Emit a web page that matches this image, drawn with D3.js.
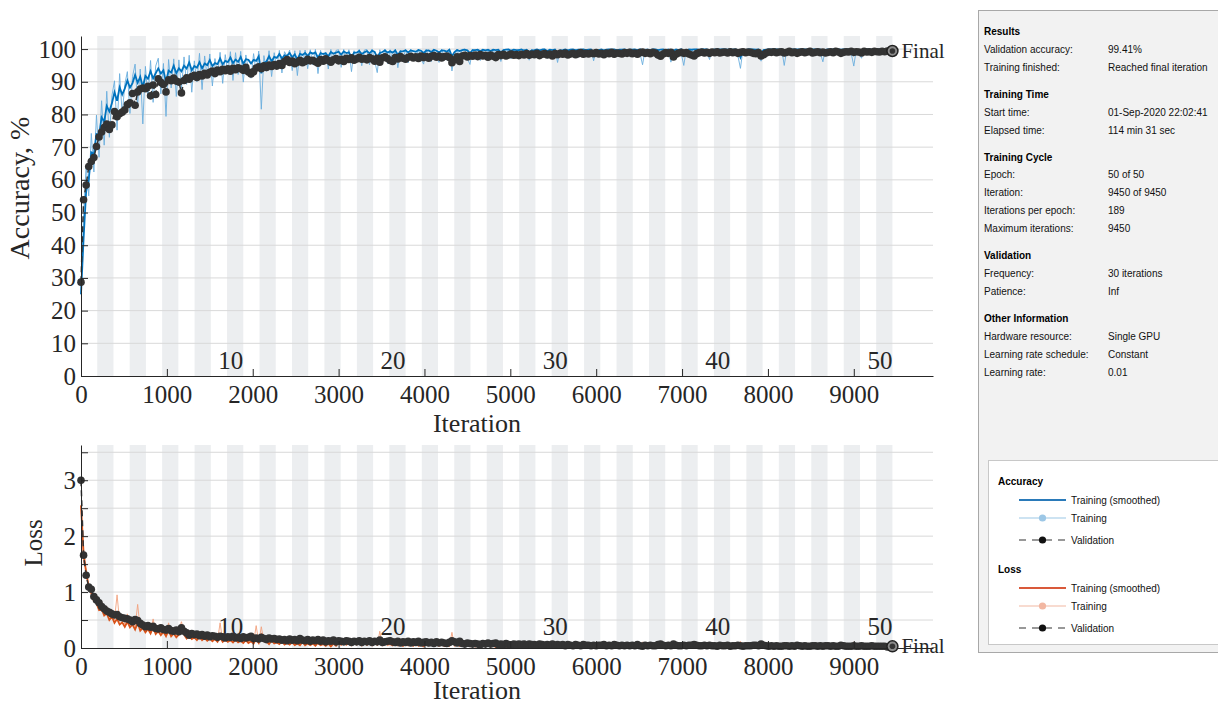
<!DOCTYPE html>
<html>
<head>
<meta charset="utf-8">
<script src="https://cdn.jsdelivr.net/npm/d3@7"></script>
<style>
  body { margin: 0; background: #fff; }
  svg { display: block; }
</style>
</head>
<body>
<script>
// ---- data ----
const step = 30;            // one value every 30 iterations
const itersPerEpoch = 189;
const epochCount = 50;
const finalIter = 9450;
const epochLabels = [10, 20, 30, 40, 50];
const iterTicks = [0, 1000, 2000, 3000, 4000, 5000, 6000, 7000, 8000, 9000];
const accTicks = [0, 10, 20, 30, 40, 50, 60, 70, 80, 90, 100];
const lossTicks = [0, 0.5, 1, 1.5, 2, 2.5, 3, 3.5];

const accValidation = [
  28.7, 53.9, 58.4, 64.1, 65.6, 66.8, 70.2, 73.1, 74.6, 76.0,
  77.1, 75.4, 76.8, 80.9, 79.3, 80.2, 80.7, 81.4, 83.0, 83.6,
  86.4, 82.8, 86.9, 87.8, 88.1, 87.9, 88.6, 85.7, 89.0, 86.1,
  90.9, 89.8, 89.2, 86.9, 90.6, 90.3, 91.1, 90.2, 89.9, 86.6,
  90.4, 91.2, 90.8, 91.6, 92.0, 91.3, 92.2, 91.8, 92.6, 92.1,
  92.9, 93.3, 92.5, 93.6, 93.1, 93.8, 93.4, 94.0, 93.2, 94.1,
  93.7, 94.3, 94.0, 93.5, 94.4, 93.0, 92.4, 93.1, 94.2, 94.6,
  94.0, 94.9, 94.4, 95.1, 94.7, 95.3, 94.8, 95.6, 95.0, 96.2,
  96.8, 95.9, 96.3, 95.5, 96.0, 96.6, 95.8, 96.2, 96.9, 96.4,
  96.6, 96.1, 95.7, 96.8, 96.3, 97.0, 96.5, 96.0, 96.7, 97.1,
  96.4, 96.9, 96.2, 97.2, 96.8, 97.3, 96.6, 97.0, 97.5, 96.9,
  97.1, 96.7, 97.4, 97.0, 96.3, 97.2, 96.0, 97.3, 97.6, 97.1,
  96.5, 96.2, 97.4, 97.0, 97.7, 97.2, 96.9, 97.5, 97.8, 97.3,
  97.6, 97.1, 97.9, 97.4, 97.7, 97.2, 97.8, 98.0, 97.5, 97.9,
  97.3, 97.7, 97.9, 97.4, 95.8, 96.7, 97.6, 96.2, 97.9, 98.1,
  97.6, 98.0, 97.8, 98.2, 97.7, 98.3, 97.9, 98.1, 97.5, 98.2,
  97.8, 97.4, 98.3, 98.0, 98.4, 97.9, 98.2, 98.5, 98.1, 98.3,
  98.0, 98.4, 98.2, 98.6, 98.1, 98.5, 98.3, 98.7, 98.0, 98.4,
  98.6, 98.2, 98.5, 97.9, 98.6, 98.3, 98.7, 98.4, 98.8, 98.2,
  98.5, 98.7, 98.3, 98.6, 98.9, 98.4, 98.7, 98.5, 98.8, 98.6,
  98.9, 98.5, 98.7, 98.3, 98.8, 98.6, 99.0, 98.4, 98.8, 98.7,
  98.5, 98.9, 98.7, 99.0, 98.6, 98.8, 98.4, 98.9, 99.1, 98.7,
  98.9, 98.6, 99.0, 98.8, 98.2, 97.8, 98.5, 98.9, 98.7, 99.0,
  97.6, 98.4, 98.8, 99.0, 98.7, 98.9, 98.5, 98.2, 97.9, 98.6,
  98.9, 99.1, 98.8, 99.0, 98.7, 99.1, 98.9, 99.2, 98.8, 99.0,
  99.1, 98.8, 99.2, 98.9, 99.1, 98.7, 99.0, 99.2, 98.9, 99.1,
  99.0, 98.7, 98.6, 98.9, 97.9, 98.3, 98.8, 99.1, 99.0, 99.2,
  98.9, 99.1, 99.2, 98.8, 99.0, 99.3, 98.9, 99.1, 98.7, 99.0,
  99.2, 98.9, 99.1, 99.3, 98.8, 99.0, 99.2, 98.9, 99.1, 98.8,
  99.0, 99.2, 98.9, 99.3, 99.1, 98.7, 99.0, 99.2, 99.1, 99.3,
  99.0, 99.2, 99.1, 98.8, 99.3, 99.1, 99.2, 99.0, 99.3, 99.2,
  99.1, 99.3, 99.2, 99.4, 99.3, 99.41
];

const accTraining = [
  25.0, 49.5, 64.3, 55.1, 74.2, 62.4, 79.8, 66.9, 84.2, 70.6,
  87.1, 73.0, 85.7, 90.3, 75.2, 92.5, 79.9, 89.2, 93.1, 80.3,
  91.6, 95.4, 82.8, 93.9, 77.1, 94.7, 85.2, 96.5, 83.7, 94.8,
  97.2, 86.3, 95.6, 79.4, 96.8, 88.1, 97.0, 85.5, 96.7, 87.9,
  97.6, 89.2, 98.1, 86.8, 96.4, 90.0, 98.7, 87.6, 97.9, 91.3,
  98.5, 88.7, 97.1, 91.8, 99.0, 89.5, 98.3, 92.6, 99.2, 90.4,
  98.9, 92.2, 99.3, 89.9, 98.2, 93.5, 91.1, 98.6, 92.9, 99.4,
  81.6, 98.0, 93.2, 99.5, 91.6, 98.9, 94.1, 99.6, 92.7, 99.2,
  97.8, 99.7, 93.4, 99.5, 91.9, 99.6, 95.4, 99.7, 94.0, 99.8,
  95.2, 99.9, 92.5, 99.6, 95.8, 99.1, 93.9, 99.9, 95.5, 99.6,
  99.8, 94.4, 99.9, 95.7, 99.8, 93.1, 99.5, 96.3, 99.9, 94.9,
  99.7, 99.9, 95.2, 100.0, 96.4, 92.8, 99.8, 96.7, 100.0, 95.6,
  99.8, 96.0, 100.0, 94.3, 99.7, 96.9, 99.9, 95.8, 100.0, 97.1,
  96.5, 100.0, 97.0, 95.4, 100.0, 97.5, 96.2, 100.0, 97.2, 95.9,
  100.0, 97.4, 96.6, 100.0, 93.3, 97.8, 100.0, 96.8, 99.9, 100.0,
  97.1, 95.3, 100.0, 97.7, 100.0, 96.5, 100.0, 97.3, 100.0, 96.9,
  100.0, 97.6, 100.0, 96.2, 100.0, 97.9, 100.0, 97.0, 100.0, 97.7,
  100.0, 98.7, 100.0, 98.5, 96.6, 100.0, 98.0, 100.0, 97.6, 100.0,
  100.0, 97.2, 100.0, 98.1, 100.0, 95.9, 100.0, 98.0, 100.0, 97.8,
  100.0, 98.3, 100.0, 97.5, 100.0, 98.7, 100.0, 98.5, 100.0, 96.4,
  100.0, 98.1, 100.0, 97.7, 100.0, 98.7, 100.0, 98.8, 100.0, 98.6,
  100.0, 98.9, 100.0, 97.8, 100.0, 98.8, 100.0, 98.7, 95.2, 100.0,
  100.0, 98.2, 100.0, 98.9, 100.0, 98.4, 100.0, 98.1, 100.0, 96.0,
  100.0, 98.8, 100.0, 98.7, 95.0, 100.0, 98.9, 100.0, 98.6, 100.0,
  100.0, 98.7, 100.0, 98.9, 96.8, 100.0, 98.8, 100.0, 98.7, 100.0,
  100.0, 98.3, 100.0, 98.5, 100.0, 98.0, 94.1, 100.0, 98.4, 100.0,
  100.0, 98.9, 100.0, 98.7, 96.3, 100.0, 98.5, 100.0, 98.3, 100.0,
  100.0, 98.4, 100.0, 95.0, 100.0, 98.8, 100.0, 98.9, 100.0, 98.8,
  100.0, 98.9, 100.0, 98.8, 100.0, 98.9, 100.0, 98.8, 96.1, 100.0,
  100.0, 98.5, 100.0, 98.7, 100.0, 98.2, 100.0, 98.6, 100.0, 98.7,
  94.8, 100.0, 98.7, 97.2, 100.0, 98.6, 100.0, 98.4, 100.0, 98.7,
  100.0, 98.6, 100.0, 99.9, 98.7, 100.0
];

const accSmoothed = [
  25.0, 42.0, 56.5, 60.2, 68.4, 67.9, 74.0, 73.6, 79.1, 77.8,
  82.6, 80.9, 83.4, 86.8, 84.2, 88.3, 86.1, 87.9, 90.4, 88.2,
  89.6, 92.1, 89.7, 91.5, 88.4, 91.8, 90.9, 93.2, 91.0, 92.6,
  94.1, 92.5, 93.5, 89.9, 93.4, 92.8, 94.9, 92.6, 94.1, 93.2,
  94.9, 94.0, 95.9, 93.5, 94.8, 94.3, 96.0, 94.1, 95.6, 95.1,
  96.6, 94.8, 95.7, 95.4, 97.1, 95.3, 96.4, 96.0, 97.4, 95.7,
  96.8, 96.1, 97.6, 95.5, 96.9, 96.7, 95.6, 96.7, 96.4, 97.8,
  92.6, 95.8, 96.2, 97.8, 96.3, 97.6, 97.3, 98.5, 97.1, 98.1,
  97.9, 98.8, 97.5, 98.4, 96.8, 98.5, 98.2, 98.8, 97.9, 99.0,
  98.6, 99.0, 97.4, 98.8, 98.5, 98.7, 97.8, 99.1, 98.6, 98.9,
  99.2, 98.3, 99.3, 98.8, 99.0, 97.5, 98.9, 98.9, 99.4, 98.5,
  99.0, 99.4, 98.7, 99.5, 99.1, 97.4, 98.8, 99.1, 99.6, 98.9,
  99.3, 98.9, 99.6, 98.2, 99.3, 99.3, 99.6, 99.0, 99.6, 99.4,
  99.2, 99.7, 99.5, 98.8, 99.5, 99.6, 99.1, 99.8, 99.5, 99.0,
  99.6, 99.5, 99.2, 99.8, 97.8, 99.1, 99.7, 99.4, 99.7, 99.8,
  99.6, 98.7, 99.7, 99.7, 99.8, 99.3, 99.8, 99.6, 99.8, 99.4,
  99.8, 99.7, 99.8, 99.0, 99.7, 99.8, 99.9, 99.5, 99.8, 99.7,
  99.7, 99.9, 99.5, 99.8, 99.1, 99.6, 99.7, 99.9, 99.6, 99.8,
  99.9, 99.4, 99.8, 99.7, 99.9, 98.8, 99.6, 99.7, 99.9, 99.6,
  99.8, 99.9, 99.6, 99.8, 99.8, 99.9, 99.7, 99.8, 99.9, 99.1,
  99.7, 99.7, 99.9, 99.6, 99.8, 99.9, 99.8, 99.9, 99.6, 99.8,
  99.8, 99.9, 99.7, 99.8, 99.8, 99.9, 99.7, 99.9, 98.3, 99.4,
  99.8, 99.7, 99.9, 99.9, 99.7, 99.8, 99.9, 99.7, 99.9, 98.8,
  99.5, 99.9, 99.7, 99.9, 98.4, 99.5, 99.9, 99.8, 99.9, 99.9,
  99.7, 99.9, 99.9, 99.9, 99.2, 99.7, 99.9, 99.8, 99.9, 99.9,
  99.9, 99.8, 99.9, 99.8, 99.9, 99.7, 97.4, 99.3, 99.7, 99.9,
  99.9, 99.9, 99.8, 99.9, 98.9, 99.7, 99.8, 99.9, 99.9, 99.9,
  99.9, 99.8, 99.9, 98.2, 99.3, 99.8, 99.9, 99.9, 99.9, 99.9,
  99.9, 99.9, 99.8, 99.9, 99.9, 99.9, 99.8, 99.9, 98.8, 99.6,
  99.9, 99.8, 99.9, 99.9, 99.9, 99.8, 99.9, 99.9, 99.9, 99.9,
  98.3, 99.4, 99.8, 99.2, 99.8, 99.9, 99.9, 99.8, 99.9, 99.9,
  99.9, 99.9, 99.9, 100.0, 99.9, 99.9
];

const lossValidation = [
  3.00, 1.66, 1.30, 1.09, 1.05, 0.92, 0.86, 0.81, 0.74, 0.70,
  0.66, 0.64, 0.61, 0.59, 0.60, 0.56, 0.54, 0.53, 0.52, 0.50,
  0.47, 0.51, 0.49, 0.44, 0.41, 0.38, 0.40, 0.37, 0.39, 0.35,
  0.34, 0.36, 0.33, 0.32, 0.35, 0.31, 0.30, 0.32, 0.29, 0.36,
  0.30, 0.27, 0.23, 0.26, 0.24, 0.25, 0.22, 0.24, 0.21, 0.23,
  0.20, 0.22, 0.21, 0.19, 0.21, 0.20, 0.18, 0.20, 0.19, 0.21,
  0.18, 0.19, 0.17, 0.20, 0.18, 0.19, 0.21, 0.17, 0.18, 0.16,
  0.19, 0.17, 0.15, 0.18, 0.16, 0.17, 0.15, 0.16, 0.14, 0.15,
  0.13, 0.16, 0.14, 0.15, 0.13, 0.17, 0.14, 0.13, 0.15, 0.12,
  0.14, 0.13, 0.15, 0.12, 0.14, 0.11, 0.13, 0.12, 0.14, 0.11,
  0.13, 0.12, 0.11, 0.13, 0.12, 0.10, 0.12, 0.11, 0.13, 0.10,
  0.12, 0.11, 0.13, 0.10, 0.12, 0.11, 0.14, 0.10, 0.11, 0.12,
  0.13, 0.11, 0.10, 0.12, 0.09, 0.11, 0.10, 0.12, 0.09, 0.11,
  0.10, 0.12, 0.09, 0.10, 0.11, 0.09, 0.10, 0.08, 0.11, 0.09,
  0.10, 0.09, 0.08, 0.10, 0.13, 0.11, 0.09, 0.12, 0.08, 0.07,
  0.09, 0.08, 0.07, 0.08, 0.07, 0.06, 0.08, 0.07, 0.09, 0.07,
  0.08, 0.09, 0.06, 0.07, 0.06, 0.08, 0.06, 0.05, 0.07, 0.06,
  0.07, 0.06, 0.07, 0.05, 0.07, 0.06, 0.06, 0.05, 0.07, 0.06,
  0.05, 0.06, 0.05, 0.07, 0.05, 0.06, 0.05, 0.06, 0.04, 0.06,
  0.05, 0.04, 0.06, 0.05, 0.04, 0.06, 0.05, 0.05, 0.04, 0.05,
  0.04, 0.05, 0.05, 0.06, 0.04, 0.05, 0.04, 0.06, 0.05, 0.04,
  0.05, 0.04, 0.05, 0.04, 0.05, 0.04, 0.06, 0.04, 0.03, 0.05,
  0.04, 0.05, 0.04, 0.04, 0.06, 0.07, 0.05, 0.04, 0.05, 0.04,
  0.07, 0.05, 0.04, 0.04, 0.05, 0.04, 0.05, 0.05, 0.06, 0.05,
  0.04, 0.04, 0.05, 0.04, 0.05, 0.04, 0.04, 0.03, 0.05, 0.04,
  0.04, 0.05, 0.03, 0.04, 0.04, 0.05, 0.04, 0.03, 0.04, 0.04,
  0.04, 0.05, 0.05, 0.04, 0.07, 0.05, 0.04, 0.03, 0.04, 0.03,
  0.04, 0.03, 0.03, 0.04, 0.04, 0.03, 0.04, 0.03, 0.05, 0.04,
  0.03, 0.04, 0.03, 0.03, 0.04, 0.04, 0.03, 0.04, 0.03, 0.04,
  0.04, 0.03, 0.04, 0.03, 0.03, 0.05, 0.04, 0.03, 0.03, 0.03,
  0.04, 0.03, 0.03, 0.04, 0.03, 0.03, 0.03, 0.04, 0.03, 0.03,
  0.03, 0.03, 0.03, 0.02, 0.03, 0.03
];

const lossTraining = [
  2.55, 1.52, 1.41, 1.02, 1.12, 0.84, 0.95, 0.72, 0.83, 0.63,
  0.74, 0.55, 0.69, 0.50, 0.95, 0.47, 0.59, 0.43, 0.61, 0.41,
  0.55, 0.38, 0.78, 0.34, 0.48, 0.31, 0.46, 0.29, 0.52, 0.27,
  0.41, 0.26, 0.39, 0.24, 0.45, 0.23, 0.36, 0.21, 0.33, 0.47,
  0.28, 0.19, 0.31, 0.18, 0.27, 0.16, 0.29, 0.17, 0.25, 0.15,
  0.26, 0.14, 0.23, 0.13, 0.45, 0.12, 0.22, 0.14, 0.21, 0.11,
  0.24, 0.12, 0.20, 0.10, 0.23, 0.11, 0.19, 0.09, 0.40, 0.10,
  0.38, 0.11, 0.18, 0.08, 0.21, 0.09, 0.16, 0.08, 0.19, 0.07,
  0.15, 0.08, 0.17, 0.06, 0.14, 0.07, 0.18, 0.06, 0.13, 0.07,
  0.12, 0.05, 0.15, 0.06, 0.11, 0.05, 0.13, 0.04, 0.14, 0.05,
  0.10, 0.04, 0.12, 0.05, 0.09, 0.04, 0.16, 0.04, 0.10, 0.03,
  0.11, 0.04, 0.09, 0.03, 0.12, 0.04, 0.30, 0.03, 0.10, 0.04,
  0.08, 0.03, 0.11, 0.03, 0.09, 0.02, 0.10, 0.03, 0.08, 0.02,
  0.09, 0.03, 0.07, 0.02, 0.10, 0.03, 0.08, 0.02, 0.07, 0.03,
  0.08, 0.02, 0.06, 0.03, 0.28, 0.02, 0.07, 0.02, 0.09, 0.02,
  0.06, 0.02, 0.07, 0.01, 0.05, 0.02, 0.06, 0.01, 0.08, 0.02,
  0.05, 0.01, 0.06, 0.02, 0.04, 0.01, 0.05, 0.01, 0.06, 0.01,
  0.04, 0.01, 0.05, 0.01, 0.07, 0.01, 0.04, 0.01, 0.05, 0.01,
  0.04, 0.01, 0.03, 0.01, 0.05, 0.09, 0.03, 0.01, 0.04, 0.01,
  0.03, 0.01, 0.04, 0.01, 0.03, 0.01, 0.04, 0.01, 0.03, 0.08,
  0.03, 0.01, 0.02, 0.01, 0.04, 0.01, 0.03, 0.01, 0.04, 0.01,
  0.02, 0.01, 0.03, 0.01, 0.02, 0.01, 0.03, 0.01, 0.11, 0.01,
  0.02, 0.01, 0.03, 0.01, 0.04, 0.01, 0.02, 0.01, 0.03, 0.09,
  0.02, 0.01, 0.03, 0.01, 0.06, 0.01, 0.02, 0.01, 0.03, 0.01,
  0.02, 0.01, 0.02, 0.01, 0.07, 0.01, 0.02, 0.01, 0.03, 0.01,
  0.02, 0.01, 0.02, 0.01, 0.03, 0.01, 0.12, 0.01, 0.02, 0.01,
  0.02, 0.01, 0.03, 0.01, 0.08, 0.01, 0.02, 0.01, 0.02, 0.01,
  0.02, 0.01, 0.02, 0.10, 0.03, 0.01, 0.02, 0.01, 0.02, 0.01,
  0.02, 0.01, 0.02, 0.01, 0.03, 0.01, 0.02, 0.01, 0.07, 0.01,
  0.02, 0.01, 0.02, 0.01, 0.02, 0.01, 0.03, 0.01, 0.02, 0.01,
  0.11, 0.01, 0.02, 0.04, 0.02, 0.01, 0.02, 0.01, 0.02, 0.01,
  0.02, 0.01, 0.02, 0.01, 0.01, 0.01
];

const lossSmoothed = [
  2.55, 1.70, 1.35, 1.10, 0.98, 0.84, 0.80, 0.68, 0.70, 0.58,
  0.62, 0.50, 0.56, 0.45, 0.52, 0.42, 0.46, 0.38, 0.47, 0.37,
  0.42, 0.33, 0.45, 0.31, 0.36, 0.28, 0.34, 0.26, 0.37, 0.25,
  0.30, 0.23, 0.29, 0.21, 0.32, 0.21, 0.26, 0.19, 0.24, 0.33,
  0.24, 0.17, 0.22, 0.16, 0.19, 0.14, 0.20, 0.14, 0.18, 0.13,
  0.17, 0.12, 0.16, 0.11, 0.19, 0.11, 0.15, 0.11, 0.14, 0.10,
  0.15, 0.10, 0.13, 0.09, 0.14, 0.09, 0.12, 0.08, 0.16, 0.09,
  0.23, 0.12, 0.12, 0.07, 0.13, 0.08, 0.10, 0.07, 0.12, 0.06,
  0.09, 0.06, 0.10, 0.05, 0.08, 0.05, 0.11, 0.05, 0.08, 0.05,
  0.08, 0.04, 0.09, 0.05, 0.07, 0.04, 0.08, 0.03, 0.08, 0.04,
  0.09, 0.06, 0.10, 0.06, 0.08, 0.05, 0.12, 0.07, 0.09, 0.05,
  0.09, 0.06, 0.08, 0.05, 0.10, 0.06, 0.16, 0.08, 0.09, 0.06,
  0.07, 0.05, 0.09, 0.05, 0.07, 0.04, 0.08, 0.05, 0.07, 0.04,
  0.07, 0.04, 0.06, 0.03, 0.08, 0.05, 0.07, 0.04, 0.06, 0.04,
  0.07, 0.04, 0.05, 0.04, 0.15, 0.07, 0.06, 0.04, 0.07, 0.04,
  0.05, 0.03, 0.06, 0.03, 0.04, 0.03, 0.05, 0.03, 0.06, 0.03,
  0.04, 0.02, 0.05, 0.03, 0.03, 0.02, 0.04, 0.02, 0.05, 0.02,
  0.03, 0.02, 0.04, 0.02, 0.05, 0.03, 0.03, 0.02, 0.04, 0.02,
  0.03, 0.02, 0.03, 0.02, 0.04, 0.06, 0.04, 0.02, 0.03, 0.02,
  0.03, 0.02, 0.03, 0.02, 0.03, 0.02, 0.03, 0.02, 0.03, 0.05,
  0.03, 0.02, 0.02, 0.01, 0.03, 0.02, 0.03, 0.02, 0.03, 0.02,
  0.02, 0.01, 0.02, 0.01, 0.02, 0.01, 0.02, 0.01, 0.06, 0.03,
  0.02, 0.01, 0.02, 0.01, 0.03, 0.02, 0.02, 0.01, 0.02, 0.05,
  0.03, 0.02, 0.02, 0.01, 0.04, 0.02, 0.02, 0.01, 0.02, 0.01,
  0.02, 0.01, 0.02, 0.01, 0.04, 0.02, 0.02, 0.01, 0.02, 0.01,
  0.02, 0.01, 0.02, 0.01, 0.02, 0.01, 0.07, 0.03, 0.02, 0.01,
  0.02, 0.01, 0.02, 0.01, 0.05, 0.02, 0.02, 0.01, 0.02, 0.01,
  0.02, 0.01, 0.02, 0.06, 0.03, 0.02, 0.02, 0.01, 0.02, 0.01,
  0.02, 0.01, 0.02, 0.01, 0.02, 0.01, 0.02, 0.01, 0.04, 0.02,
  0.02, 0.01, 0.02, 0.01, 0.02, 0.01, 0.02, 0.01, 0.02, 0.01,
  0.06, 0.03, 0.02, 0.03, 0.02, 0.01, 0.02, 0.01, 0.02, 0.01,
  0.02, 0.01, 0.02, 0.01, 0.01, 0.01
];

// info panel text
const infoTitles = ['Results', 'Training Time', 'Training Cycle', 'Validation', 'Other Information'];
const infoRows = [
  [['Validation accuracy:', '99.41%'], ['Training finished:', 'Reached final iteration']],
  [['Start time:', '01-Sep-2020 22:02:41'], ['Elapsed time:', '114 min 31 sec']],
  [['Epoch:', '50 of 50'], ['Iteration:', '9450 of 9450'], ['Iterations per epoch:', '189'], ['Maximum iterations:', '9450']],
  [['Frequency:', '30 iterations'], ['Patience:', 'Inf']],
  [['Hardware resource:', 'Single GPU'], ['Learning rate schedule:', 'Constant'], ['Learning rate:', '0.01']]
];
const legendGroups = ['Accuracy', 'Loss'];
const legendNames = ['Training (smoothed)', 'Training', 'Validation'];

// ---- drawing ----
const serif = '"Liberation Serif", "Times New Roman", serif';
const sans = '"Liberation Sans", Arial, sans-serif';
const ink = '#262626';

const svg = d3.select('body').append('svg')
    .attr('width', 1218)
    .attr('height', 705);

const x = d3.scaleLinear().domain([0, finalIter * 1.05]).range([81, 933]);
const accY = d3.scaleLinear().domain([0, 104]).range([376, 36]);
const lossY = d3.scaleLinear().domain([0, 3.63]).range([648, 445]);

function drawChart(c) {
    const g = svg.append('g');
    const [y0, y1] = c.y.range();

    // alternating epoch shading
    const bands = d3.range(2, epochCount + 1, 2);
    g.selectAll('.band').data(bands).join('rect')
        .attr('class', 'band')
        .attr('x', e => x((e - 1) * itersPerEpoch))
        .attr('width', e => x(e * itersPerEpoch) - x((e - 1) * itersPerEpoch))
        .attr('y', y1)
        .attr('height', y0 - y1)
        .attr('fill', '#eceef0');

    g.selectAll('.grid').data(c.grid).join('line')
        .attr('class', 'grid')
        .attr('x1', x.range()[0]).attr('x2', x.range()[1])
        .attr('y1', d => c.y(d)).attr('y2', d => c.y(d))
        .attr('stroke', '#d9d9d9')
        .attr('stroke-width', 1);

    g.selectAll('.epoch').data(epochLabels).join('text')
        .attr('class', 'epoch')
        .attr('x', e => x(e * itersPerEpoch))
        .attr('y', c.epochY)
        .attr('text-anchor', 'end')
        .attr('font-family', serif)
        .attr('font-size', 25)
        .attr('fill', ink)
        .text(d => d);

    const line = d3.line()
        .x((d, i) => x(i * step))
        .y(d => c.y(d));

    g.append('path').datum(c.training)
        .attr('d', line)
        .attr('fill', 'none')
        .attr('stroke', c.rawColor)
        .attr('stroke-width', 1)
        .attr('opacity', 0.9);

    g.append('path').datum(c.smoothed)
        .attr('d', line)
        .attr('fill', 'none')
        .attr('stroke', c.smoothColor)
        .attr('stroke-width', 1.8);

    g.append('path').datum(c.validation)
        .attr('d', line)
        .attr('fill', 'none')
        .attr('stroke', '#333')
        .attr('stroke-width', 1.5)
        .attr('stroke-dasharray', '6,4');

    g.selectAll('.val').data(c.validation).join('circle')
        .attr('class', 'val')
        .attr('cx', (d, i) => x(i * step))
        .attr('cy', d => c.y(d))
        .attr('r', 3.8)
        .attr('fill', '#333');

    // axes
    const xAxis = g.append('g')
        .attr('transform', `translate(0,${y0})`)
        .call(d3.axisBottom(x).tickValues(iterTicks).tickFormat(d3.format('d'))
            .tickSize(-7).tickSizeOuter(0).tickPadding(9));
    const yAxis = g.append('g')
        .attr('transform', `translate(${x.range()[0]},0)`)
        .call(d3.axisLeft(c.y).tickValues(c.ticks).tickFormat(c.fmt)
            .tickSize(-7).tickSizeOuter(0).tickPadding(5));
    [xAxis, yAxis].forEach(a => {
        a.attr('font-family', serif).attr('font-size', 25);
        a.selectAll('path, line').attr('stroke', ink);
        a.selectAll('text').attr('fill', ink);
    });

    g.append('text')
        .attr('x', 477)
        .attr('y', c.xlabelY)
        .attr('text-anchor', 'middle')
        .attr('font-family', serif)
        .attr('font-size', 26)
        .attr('fill', ink)
        .text('Iteration');

    g.append('text')
        .attr('transform', `translate(${c.ylabelX},${c.ylabelY}) rotate(-90)`)
        .attr('text-anchor', 'middle')
        .attr('font-family', serif)
        .attr('font-size', c.ylabelSize)
        .attr('fill', ink)
        .text(c.ylabel);

    // final marker
    const last = c.validation[c.validation.length - 1];
    const fx = x(finalIter), fy = c.y(last);
    g.append('circle').attr('cx', fx).attr('cy', fy).attr('r', 5.5)
        .attr('fill', '#8a8a8a').attr('stroke', '#222').attr('stroke-width', 1.5);
    g.append('circle').attr('cx', fx).attr('cy', fy).attr('r', 2.8).attr('fill', '#333');
    g.append('text')
        .attr('x', fx + 9)
        .attr('y', fy + 7)
        .attr('font-family', serif)
        .attr('font-size', 21)
        .attr('fill', ink)
        .text('Final');
}

drawChart({
    y: accY, ticks: accTicks, fmt: d => d, grid: accTicks.slice(1),
    training: accTraining, smoothed: accSmoothed, validation: accValidation,
    rawColor: '#6aaede', smoothColor: '#0072bd',
    ylabel: 'Accuracy, %', ylabelX: 29, ylabelY: 188, ylabelSize: 28,
    epochY: 369, xlabelY: 432
});

drawChart({
    y: lossY, ticks: lossTicks, fmt: d => Number.isInteger(d) ? d : '', grid: lossTicks.slice(1),
    training: lossTraining, smoothed: lossSmoothed, validation: lossValidation,
    rawColor: '#f2a27e', smoothColor: '#d95319',
    ylabel: 'Loss', ylabelX: 42, ylabelY: 543, ylabelSize: 25,
    epochY: 635, xlabelY: 699
});

// ---- info panel ----
const panel = svg.append('g');
panel.append('rect')
    .attr('x', 978.5).attr('y', 10.5)
    .attr('width', 260).attr('height', 642)
    .attr('fill', '#f2f2f2')
    .attr('stroke', '#a8a8a8');

let yy = 31;
infoTitles.forEach((title, si) => {
    panel.append('text')
        .attr('x', 984).attr('y', yy + 4)
        .attr('font-family', sans).attr('font-size', 10).attr('font-weight', 'bold')
        .attr('fill', '#000')
        .text(title);
    yy += 17.8;
    infoRows[si].forEach(([label, value]) => {
        panel.append('text')
            .attr('x', 984).attr('y', yy + 4)
            .attr('font-family', sans).attr('font-size', 10).attr('fill', '#111')
            .text(label);
        panel.append('text')
            .attr('x', 1108).attr('y', yy + 4)
            .attr('font-family', sans).attr('font-size', 10).attr('fill', '#111')
            .text(value);
        yy += 18;
    });
    yy += 9;
});

// legend
const legend = panel.append('g');
legend.append('rect')
    .attr('x', 988.5).attr('y', 460.5)
    .attr('width', 240).attr('height', 184)
    .attr('fill', '#fff')
    .attr('stroke', '#c8c8c8');

const legendColors = [['#2a7ab9', '#9cc7e6', '#111'], ['#d9593a', '#f2b7a2', '#111']];
const groupY = [481, 569];
const rowOffsets = [19, 37, 59];
legendGroups.forEach((name, gi) => {
    legend.append('text')
        .attr('x', 998).attr('y', groupY[gi] + 4)
        .attr('font-family', sans).attr('font-size', 10).attr('font-weight', 'bold')
        .text(name);
    legendNames.forEach((item, ri) => {
        const ly = groupY[gi] + rowOffsets[ri];
        const col = legendColors[gi][ri];
        legend.append('line')
            .attr('x1', 1019).attr('x2', 1066)
            .attr('y1', ly).attr('y2', ly)
            .attr('stroke', ri === 2 ? '#333' : col)
            .attr('stroke-width', ri === 0 ? 2 : 1.2)
            .attr('stroke-dasharray', ri === 2 ? '7,6' : null);
        if (ri > 0) {
            legend.append('circle').attr('cx', 1042.5).attr('cy', ly).attr('r', 3.6).attr('fill', col);
        }
        legend.append('text')
            .attr('x', 1071).attr('y', ly + 4)
            .attr('font-family', sans).attr('font-size', 10).attr('fill', '#111')
            .text(item);
    });
});
</script>
</body>
</html>
